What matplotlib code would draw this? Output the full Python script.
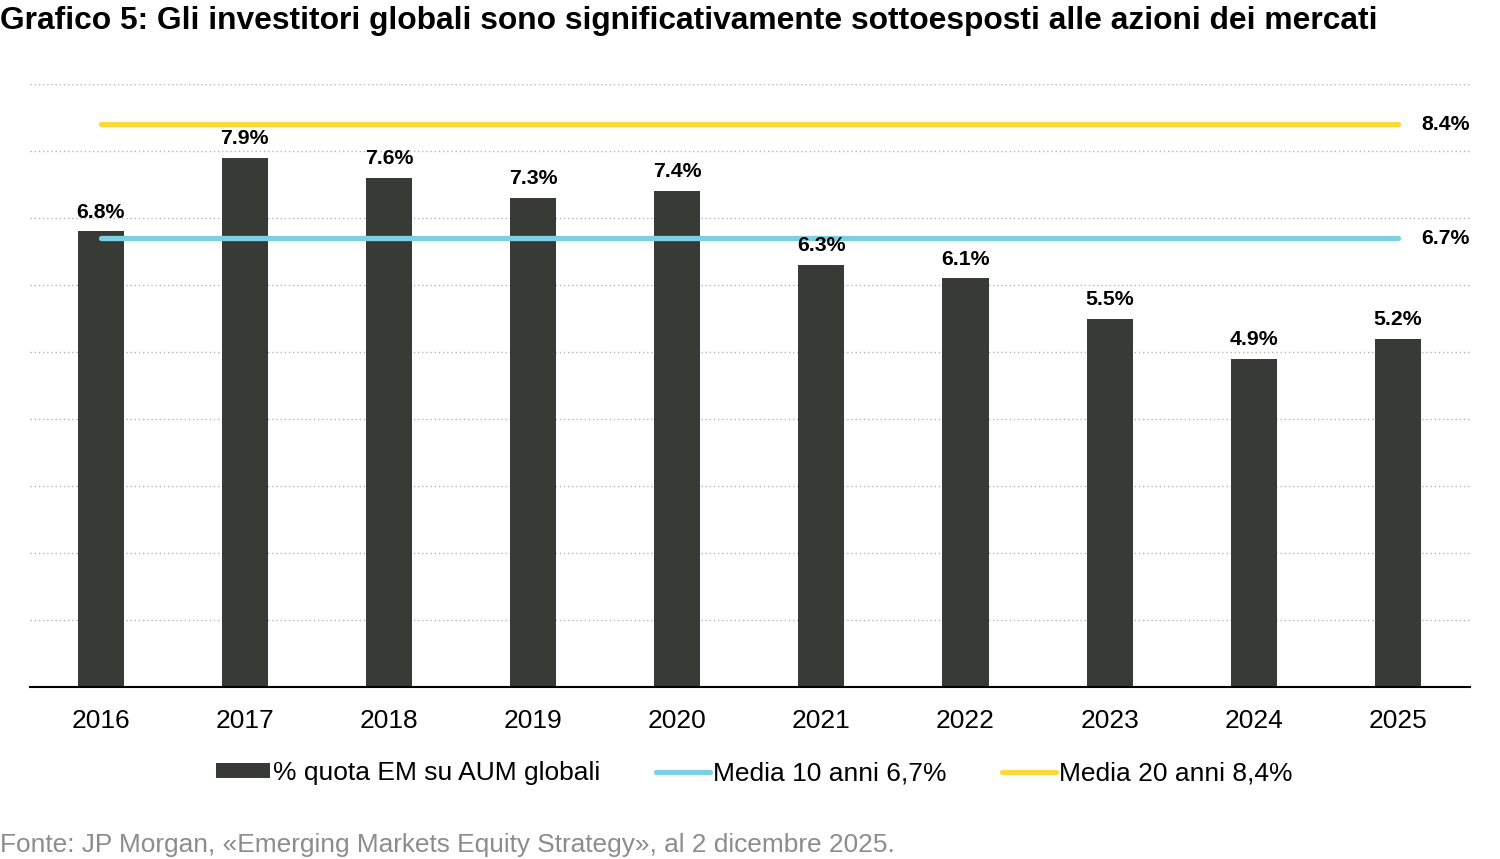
import matplotlib
matplotlib.use("Agg")
import matplotlib.pyplot as plt
from matplotlib.patches import Patch
from matplotlib.lines import Line2D

# Data
years = ["2016", "2017", "2018", "2019", "2020", "2021", "2022", "2023", "2024", "2025"]
em_share = [6.8, 7.9, 7.6, 7.3, 7.4, 6.3, 6.1, 5.5, 4.9, 5.2]
avg_10y = 6.7
avg_20y = 8.4

title = "Grafico 5: Gli investitori globali sono significativamente sottoesposti alle azioni dei mercati"
source = "Fonte: JP Morgan, «Emerging Markets Equity Strategy», al 2 dicembre 2025."
bar_label = "% quota EM su AUM globali"
label_10y = "Media 10 anni 6,7%"
label_20y = "Media 20 anni 8,4%"

BAR_COLOR = "#383a36"
CYAN = "#7dd0e2"
YELLOW = "#fcd93a"

plt.rcParams["font.family"] = ["Liberation Sans", "DejaVu Sans"]

fig = plt.figure(figsize=(15, 8.59), dpi=100)
ax = fig.add_axes([0.02, 0.2002, 0.96, 0.7020])

x = list(range(len(years)))
ax.bar(x, em_share, width=0.32, color=BAR_COLOR, zorder=2)

# value labels sit above the average lines
for xi, v in zip(x, em_share):
    ax.annotate(f"{v:.1f}%", (xi, v), xytext=(0, 7), textcoords="offset points",
                ha="center", va="bottom", fontsize=15.3, fontweight="bold", zorder=5)

ax.plot([x[0], x[-1]], [avg_20y, avg_20y], color=YELLOW, lw=3.8,
        solid_capstyle="round", zorder=4)
ax.plot([x[0], x[-1]], [avg_10y, avg_10y], color=CYAN, lw=3.8,
        solid_capstyle="round", zorder=4)
ax.text(9.33, avg_20y, f"{avg_20y:.1f}%", ha="center", va="center",
        fontsize=15.3, fontweight="bold")
ax.text(9.33, avg_10y, f"{avg_10y:.1f}%", ha="center", va="center",
        fontsize=15.3, fontweight="bold")

ax.set_xlim(-0.49, 9.5)
ax.set_ylim(0, 9)
ax.set_yticks(range(1, 10))
ax.yaxis.grid(True, linestyle=(0, (1, 2)), color="#b5b5b5", lw=1.0, zorder=0)
ax.tick_params(axis="y", left=False, labelleft=False)
ax.tick_params(axis="x", length=0, pad=15.5)
ax.set_xticks(x)
ax.set_xticklabels(years, fontsize=19)
for s in ["top", "right", "left"]:
    ax.spines[s].set_visible(False)
ax.spines["bottom"].set_linewidth(1.5)
ax.spines["bottom"].set_color("black")

fig.text(0.0, 0.975, title, fontsize=22.9, fontweight="bold", ha="left", va="center")
fig.text(0.0, 0.0163, source, fontsize=18.9, color="#8c8c8c", ha="left",
         va="center")

handles = [
    Patch(facecolor=BAR_COLOR, edgecolor="none"),
    Line2D([0], [0], color=CYAN, lw=3.8, solid_capstyle="round"),
    Line2D([0], [0], color=YELLOW, lw=3.8, solid_capstyle="round"),
]
fig.legend(handles, [bar_label, label_10y, label_20y], loc="center",
           bbox_to_anchor=(0.503, 0.100), ncol=3, frameon=False,
           prop={"size": 19},
           handlelength=2.05, handleheight=0.5, handletextpad=0.12,
           columnspacing=2.1)

fig.savefig("out.png", dpi=100)
